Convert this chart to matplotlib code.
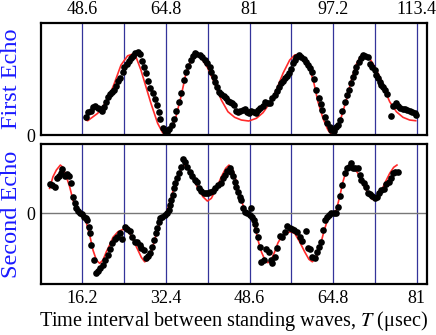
import matplotlib
matplotlib.use("Agg")
import matplotlib.pyplot as plt

plt.rcParams['font.family'] = ['Liberation Serif', 'DejaVu Serif']
plt.rcParams['mathtext.fontset'] = 'stix'

# first echo (top axis, usec)
t1 = [49.28, 49.74, 50.25, 50.71, 51.10, 51.55, 51.94, 52.32, 52.71, 53.16,
      53.62, 53.93, 54.32, 54.65, 55.10, 55.56, 55.87, 56.39, 56.72, 57.17,
      57.56, 58.00, 58.47, 58.86, 59.30, 59.75, 60.14, 60.60, 60.91, 61.24,
      61.77, 62.21, 62.66, 63.05, 63.38, 63.70, 64.15, 64.60, 64.99, 65.45,
      65.90, 66.28, 66.73, 67.25, 67.70, 68.22, 68.67, 69.13, 69.64, 70.10,
      70.49, 70.69, 71.33, 71.85, 72.30, 72.74, 73.26, 73.59, 74.04, 74.37,
      74.68, 75.07, 75.53, 75.98, 76.37, 76.81, 77.28, 77.67, 77.98, 78.31,
      78.75, 79.22, 79.72, 80.05, 80.50, 80.89, 81.35, 81.79, 82.18, 82.63,
      83.09, 83.60, 84.06, 84.57, 85.03, 85.42, 85.87, 86.31, 86.70, 87.03,
      87.48, 87.81, 88.25, 88.58, 89.11, 89.42, 89.74, 90.07, 90.52, 91.05,
      91.49, 91.88, 92.32, 92.65, 93.10, 93.49, 93.95, 94.46, 94.79, 95.12,
      95.56, 96.01, 96.53, 96.86, 97.31, 97.70, 98.14, 98.61, 99.00, 99.44,
      99.89, 100.28, 100.74, 101.05, 101.38, 101.71, 102.15, 102.54, 102.99, 103.45,
      103.96, 104.42, 104.81, 105.26, 105.59, 105.90, 106.23, 106.56, 106.87, 107.33,
      107.64, 108.36, 108.81, 109.33, 109.77, 110.24, 110.75, 111.21, 111.59, 112.04,
      112.57, 113.01, 113.34]
echo1 = [18.3, 22.7, 24.3, 28.3, 29.0, 27.3, 26.0, 24.3, 28.3, 33.3,
         38.3, 40.7, 42.7, 45.0, 49.0, 54.0, 56.7, 63.3, 68.3, 71.0,
         74.3, 76.7, 79.0, 81.7, 83.3, 81.0, 74.3, 68.3, 61.7, 54.3,
         46.7, 41.7, 35.7, 30.0, 23.3, 15.7, 7.3, 4.3, 3.3, 5.7,
         10.0, 16.0, 24.0, 33.3, 41.7, 55.0, 63.3, 69.0, 75.0, 79.0,
         81.7, 81.0, 80.0, 77.7, 75.0, 71.7, 68.3, 63.3, 58.3, 53.3,
         48.3, 43.3, 41.0, 39.0, 36.7, 34.3, 33.3, 32.3, 30.0, 24.0,
         23.3, 24.3, 25.0, 26.0, 23.3, 22.3, 24.3, 23.3, 21.7, 25.0,
         27.3, 29.0, 33.3, 31.7, 32.3, 36.7, 40.0, 44.3, 48.3, 51.7,
         54.3, 57.3, 59.0, 61.7, 65.7, 71.7, 75.0, 77.7, 80.0, 78.3,
         75.7, 72.7, 70.0, 66.7, 63.3, 55.7, 45.0, 36.7, 31.0, 25.0,
         18.3, 11.7, 7.7, 5.0, 4.3, 7.7, 10.0, 15.0, 24.3, 33.3,
         40.0, 45.0, 51.7, 58.3, 62.7, 68.3, 73.3, 77.3, 80.0, 79.0,
         78.3, 71.0, 68.3, 65.0, 60.0, 56.7, 53.3, 50.0, 47.7, 45.0,
         41.0, 19.3, 29.3, 31.7, 29.0, 26.7, 26.0, 25.7, 25.0, 24.3,
         23.3, 21.7, 20.0]

fit1_t = [49.28, 49.61, 51.55, 53.49, 54.78, 56.07, 57.36, 58.33, 58.97, 59.94,
          60.91, 61.88, 63.18, 64.15, 64.79, 65.76, 66.73, 67.70, 68.67, 69.64,
          70.61, 71.66, 72.93, 74.23, 75.53, 76.81, 78.11, 79.41, 80.83, 82.32,
          83.60, 84.90, 86.20, 87.48, 88.78, 89.74, 90.52, 91.69, 92.65, 93.49,
          94.26, 95.23, 96.20, 96.98, 97.83, 98.80, 99.77, 100.74, 101.71, 102.68,
          103.32, 104.29, 105.26, 106.23, 107.20, 108.17, 109.47, 110.75, 112.04, 113.21]
fit1 = [15.0, 14.3, 21.7, 35.0, 51.7, 70.0, 79.3, 81.0, 78.3, 65.0,
        48.3, 31.7, 11.7, 2.3, 0.0, 5.0, 18.3, 38.3, 61.7, 75.0,
        80.5, 77.0, 66.7, 51.7, 35.0, 23.3, 17.7, 15.0, 14.0, 16.7,
        22.3, 31.7, 45.0, 61.7, 75.0, 80.0, 81.0, 76.7, 66.7, 51.7,
        33.3, 16.7, 5.0, 0.0, 5.0, 18.3, 35.0, 55.0, 71.0, 80.0,
        81.0, 76.7, 68.3, 58.3, 45.0, 33.3, 23.3, 17.7, 15.0, 14.3]

# second echo (bottom axis, usec)
t2 = [9.84, 10.36, 10.81, 11.33, 11.64, 11.97, 12.30, 12.75, 13.19, 13.58,
      14.05, 14.36, 14.69, 15.02, 15.33, 15.66, 16.10, 16.49, 16.82, 17.07,
      17.40, 17.60, 17.93, 18.37, 18.76, 19.21, 19.67, 20.18, 20.64, 21.14,
      21.47, 21.99, 22.44, 22.97, 23.41, 23.86, 24.38, 24.83, 25.35, 25.88,
      26.32, 26.77, 27.29, 27.62, 28.07, 28.46, 28.90, 29.37, 29.75, 30.06,
      30.39, 30.65, 30.97, 31.30, 31.69, 32.14, 32.58, 32.91, 33.24, 33.44,
      33.75, 33.94, 34.21, 34.52, 34.85, 35.24, 35.69, 36.15, 36.54, 36.99,
      37.43, 37.96, 38.40, 38.79, 39.25, 39.70, 40.09, 40.53, 41.00, 41.50,
      41.83, 42.47, 42.99, 43.44, 43.77, 44.22, 44.74, 45.07, 45.38, 45.71,
      46.04, 46.35, 46.68, 47.01, 47.32, 47.79, 48.17, 48.62, 48.95, 49.14,
      49.45, 49.73, 49.92, 50.23, 50.56, 50.89, 51.33, 51.86, 52.30, 52.69,
      53.02, 53.47, 53.91, 54.44, 54.88, 55.41, 55.85, 56.38, 56.82, 57.15,
      57.79, 58.31, 58.83, 59.48, 59.92, 60.39, 60.78, 61.22, 61.67, 62.06,
      62.52, 62.83, 63.30, 63.69, 63.99, 64.46, 64.91, 65.30, 65.74, 66.07,
      66.59, 67.04, 67.49, 67.87, 68.20, 68.65, 69.11, 69.62, 69.95, 70.28,
      70.72, 71.11, 71.56, 72.02, 72.41, 72.86, 73.30, 73.69, 74.16, 74.60,
      75.13, 75.57, 75.96, 76.41, 76.87, 77.38]
echo2 = [29.0, 28.0, 26.3, 34.7, 37.0, 39.7, 43.7, 37.0, 39.0, 37.0,
         29.7, 16.3, 9.7, 4.7, 2.0, -0.3, -1.3, -3.7, -5.3, -7.0,
         -13.7, -20.3, -32.0, -47.0, -59.7, -57.7, -55.3, -52.0, -47.0, -42.0,
         -36.3, -29.7, -26.3, -24.3, -19.7, -26.3, -14.3, -16.3, -17.7, -24.3,
         -28.7, -28.7, -32.0, -35.3, -37.0, -45.3, -43.0, -39.7, -33.7, -27.0,
         -20.3, -15.3, -8.7, -5.3, -3.7, -2.0, -0.3, 3.0, 8.0, 13.0,
         18.0, 24.7, 29.7, 34.7, 39.7, 46.3, 53.7, 51.3, 46.3, 41.3,
         37.0, 33.0, 31.3, 24.7, 22.3, 20.3, 20.3, 20.3, 20.7, 22.3,
         24.7, 28.0, 30.3, 34.7, 38.0, 42.3, 44.7, 41.3, 37.0, 31.3,
         26.3, 21.3, 16.3, 13.0, 4.7, 1.3, -0.3, -2.0, 4.7, -3.7,
         -7.0, -11.0, -17.0, -24.3, -33.7, -48.7, -47.0, -36.3, -38.7, -47.0,
         -50.3, -43.7, -35.3, -23.0, -23.7, -18.7, -13.0, -15.3, -16.3, -17.0,
         -18.7, -23.7, -27.7, -17.7, -35.3, -36.3, -44.3, -45.3, -38.7, -34.3,
         -28.7, -17.0, -7.0, -3.7, -2.0, -0.3, 0.3, 0.3, 5.7, 17.0,
         28.0, 39.7, 44.7, 46.3, 49.7, 44.7, 44.7, 44.7, 38.0, 33.0,
         29.7, 26.3, 20.3, 19.0, 17.0, 14.7, 16.3, 19.7, 23.0, 24.0,
         29.0, 31.3, 34.7, 39.7, 41.3, 41.3]

fit2_t = [9.84, 10.48, 11.14, 11.91, 12.42, 13.08, 13.72, 14.36, 15.02, 15.66,
          16.30, 16.96, 17.60, 18.24, 18.90, 19.54, 20.18, 20.83, 21.47, 22.11,
          23.08, 24.05, 24.83, 25.68, 26.65, 27.62, 28.26, 28.90, 29.56, 30.20,
          30.84, 31.50, 32.33, 32.78, 33.44, 34.08, 34.72, 35.38, 36.02, 36.66,
          37.63, 38.60, 39.57, 40.42, 41.19, 42.16, 43.13, 43.97, 44.61, 45.38,
          46.04, 46.68, 47.32, 47.98, 48.81, 49.26, 49.72, 50.23, 50.89, 51.53,
          52.17, 52.83, 53.47, 54.11, 54.88, 55.74, 56.57, 57.35, 58.31, 59.28,
          60.12, 60.78, 61.42, 62.19, 62.83, 63.49, 64.13, 64.77, 65.43, 66.07,
          66.71, 67.37, 67.87, 68.65, 69.62, 70.59, 71.56, 72.41, 73.19, 73.96,
          74.80, 75.77, 76.54, 77.18]
fit2 = [24.7, 36.3, 43.0, 48.0, 45.7, 36.3, 26.3, 13.0, 3.0, -0.3,
        -3.7, -9.7, -22.0, -37.0, -47.0, -50.3, -47.0, -38.7, -32.0, -24.3,
        -18.7, -16.3, -17.0, -23.0, -33.7, -44.3, -48.7, -47.0, -38.7, -27.0,
        -15.3, -7.0, -1.3, 4.7, 16.3, 28.0, 38.0, 44.7, 48.0, 44.7,
        34.7, 24.7, 16.3, 12.0, 14.7, 24.7, 36.3, 44.7, 48.0, 43.0,
        31.3, 18.0, 8.0, 1.3, -2.0, -7.0, -15.3, -27.0, -38.7, -46.3,
        -49.7, -46.3, -38.7, -29.7, -23.0, -19.7, -18.7, -20.3, -28.7, -38.7,
        -46.3, -48.7, -45.3, -35.3, -22.0, -10.3, -3.7, -1.0, 3.0, 16.3,
        31.3, 43.0, 48.0, 46.3, 39.7, 29.7, 19.7, 13.7, 14.7, 19.7,
        29.7, 39.7, 45.7, 48.0]

ticks_top = [48.6, 64.8, 81, 97.2, 113.4]
ticks_bot = [16.2, 32.4, 48.6, 64.8, 81]
grid_top = [48.6, 56.7, 64.8, 72.9, 81, 89.1, 97.2, 105.3, 113.4]
grid_bot = [16.2, 24.3, 32.4, 40.5, 48.6, 56.7, 64.8, 72.9, 81]

fig = plt.figure(figsize=(4.36, 3.35), dpi=100)
ax1 = fig.add_axes([0.0933, 0.597, 0.886, 0.334])
ax2 = fig.add_axes([0.0933, 0.152, 0.886, 0.418])

grid_col = '#34349a'

for g in grid_top:
    ax1.axvline(g, color=grid_col, lw=0.9, zorder=1)
ax1.plot(fit1_t, fit1, color='#ff2a2a', lw=1.2, zorder=2)
ax1.plot(t1, echo1, 'o', color='black', ms=4.8, mec='none', zorder=3)
ax1.set_xlim(40.5, 115.4)
ax1.set_ylim(0, 112)
ax1.xaxis.tick_top()
ax1.set_xticks(ticks_top)
ax1.set_xticklabels(['48.6', '64.8', '81', '97.2', '113.4'])
ax1.set_yticks([0])
ax1.tick_params(length=0, labelsize=13, pad=4)
ax1.set_ylabel('First Echo', color='#1a1aff', fontsize=17.5, labelpad=3)

for g in grid_bot:
    ax2.axvline(g, color=grid_col, lw=0.9, zorder=1)
ax2.axhline(0, color='#777777', lw=1.0, zorder=1)
ax2.plot(fit2_t, fit2, color='#ff2a2a', lw=1.2, zorder=2)
ax2.plot(t2, echo2, 'o', color='black', ms=4.8, mec='none', zorder=3)
ax2.set_xlim(8.1, 83.0)
ax2.set_ylim(-71, 69)
ax2.set_xticks(ticks_bot)
ax2.set_xticklabels(['16.2', '32.4', '48.6', '64.8', '81'])
ax2.set_yticks([0])
ax2.tick_params(length=0, labelsize=13, pad=4)
ax2.set_ylabel('Second Echo', color='#1a1aff', fontsize=17.5, labelpad=3)
ax2.set_xlabel(r'Time interval between standing waves, $T$ (μsec)', fontsize=14.6, labelpad=2)

for ax in (ax1, ax2):
    for s in ax.spines.values():
        s.set_linewidth(1.6)

fig.savefig('out.png', dpi=100)
